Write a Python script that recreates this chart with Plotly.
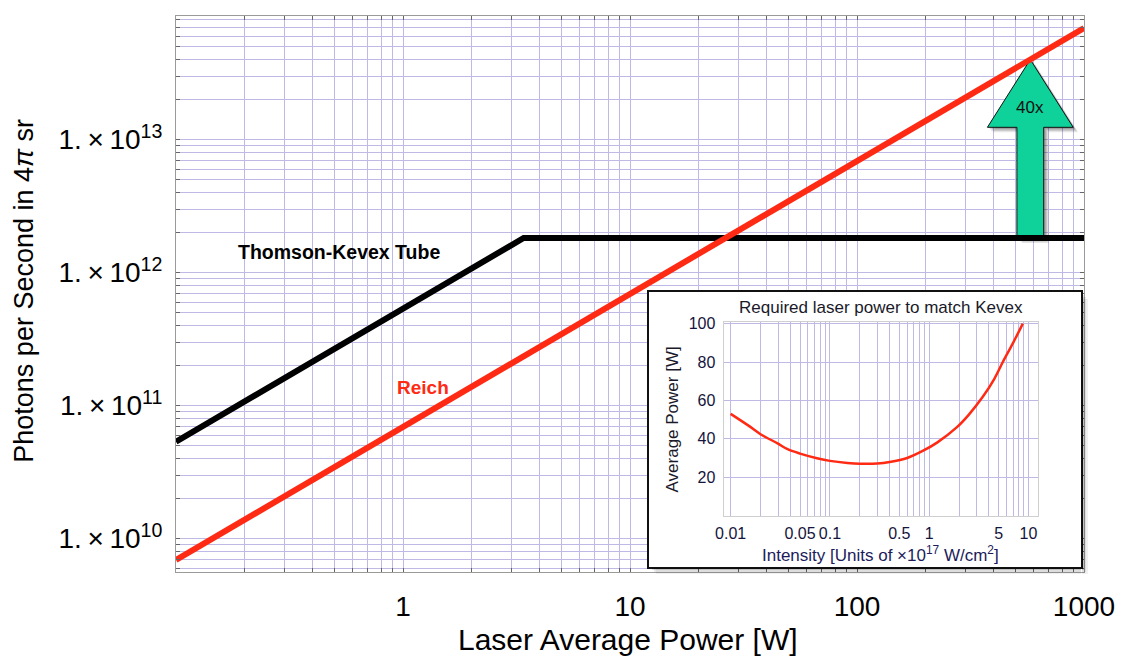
import numpy as np
import plotly.graph_objects as go

# ---------------- data ----------------
# Main chart: photons per second vs laser average power
kevex_power = [0.1, 3.4, 1000]
kevex_photons = [5.35e10, 1.82e12, 1.82e12]
reich_power = [0.1, 1000]
reich_photons = [6.9e9, 6.9e13]

x_labels = {1: "1", 10: "10", 100: "100", 1000: "1000"}
y_labels = {1e10: "10", 1e11: "11", 1e12: "12", 1e13: "13"}

# Inset: required laser power to match Kevex
intensity = [0.01, 0.015, 0.02, 0.03, 0.037, 0.05, 0.074, 0.1, 0.15, 0.2, 0.3,
             0.4, 0.6, 0.87, 1.2, 1.88, 2.5, 3.48, 4.5, 5.52, 7.0, 8.77]
avg_power = [53, 47, 42.4, 37.5, 34.7, 32.3, 29.9, 28.5, 27.4, 27.0, 27.1,
             27.9, 30.0, 33.8, 38.0, 45.8, 52.5, 62.0, 71.0, 80.0, 90.0, 100.0]
inset_x_labels = {0.01: "0.01", 0.05: "0.05", 0.1: "0.1", 0.5: "0.5", 1: "1", 5: "5", 10: "10"}
inset_y_ticks = [0, 20, 40, 60, 80, 100]

arrow_label = "40x"
arrow_power = 580  # W, where the "40x" arrow stands

# ---------------- styling ----------------
FONT = "Liberation Sans, Arial, Helvetica, sans-serif"
GRID = "#bfb9e6"
RED = "#ff2a14"
MINT = "#0fd29a"

# plot area in pixels
L, R, T, B = 176, 37, 10, 88
W, H = 1125, 660
PW, PH = W - L - R, H - T - B


def px(x):
    return (x - L) / PW


def py(y):
    return (H - B - y) / PH


def grid_vals(e0, e1):
    vals = []
    for e in range(e0, e1 + 1):
        for m in range(1, 10):
            vals.append(float(f"{m}e{e}"))
    return vals


main_x_vals = [v for v in grid_vals(-1, 3) if v <= 1000]
main_x_text = [x_labels.get(v, "") for v in main_x_vals]
main_y_vals = [v for v in grid_vals(9, 13) if 5.5e9 <= v <= 8.6e13]
main_y_text = [("1.\u2009×\u200910<sup>%s</sup>" % y_labels[v]) if v in y_labels else "" for v in main_y_vals]

inset_x_vals = [v for v in grid_vals(-2, 1) if v <= 10]
inset_x_text = [inset_x_labels.get(v, "") for v in inset_x_vals]
inset_y_text = ["" if v == 0 else str(v) for v in inset_y_ticks]

fig = go.Figure()

# ---- arrow (drawn from the data: base on Kevex plateau, tip on Reich line) ----
lx = np.log10(arrow_power)
tip = np.interp(lx, np.log10(reich_power), np.log10(reich_photons))
base = np.log10(kevex_photons[-1])
head_base = tip - 0.51
head_hw, shaft_hw = 0.189, 0.059
ax_log = [lx - shaft_hw, lx - shaft_hw, lx - head_hw, lx, lx + head_hw, lx + shaft_hw, lx + shaft_hw, lx - shaft_hw]
ay_log = [base, head_base, head_base, tip, head_base, head_base, base, base]
for k, op in [(5, 0.10), (3.5, 0.14), (2, 0.18)]:
    fig.add_trace(go.Scatter(
        x=[10 ** (v + k / 228) for v in ax_log], y=[10 ** (v - k / 134.3) for v in ay_log],
        mode="lines", fill="toself", fillcolor=f"rgba(0,0,0,{op})", line=dict(width=0),
        hoverinfo="skip", showlegend=False))
fig.add_trace(go.Scatter(
    x=[10 ** v for v in ax_log], y=[10 ** v for v in ay_log],
    mode="lines", fill="toself", fillcolor=MINT, line=dict(color="#111", width=1),
    hoverinfo="skip", showlegend=False))

# ---- main lines ----
fig.add_trace(go.Scatter(x=kevex_power, y=kevex_photons, mode="lines",
                         line=dict(color="black", width=6), name="Thomson-Kevex Tube",
                         showlegend=False))
fig.add_trace(go.Scatter(x=reich_power, y=reich_photons, mode="lines",
                         line=dict(color=RED, width=6), name="Reich", showlegend=False))

# ---- cover panel for the inset (subplot 2) ----
fig.add_trace(go.Scatter(x=[], y=[], xaxis="x2", yaxis="y2", showlegend=False, hoverinfo="skip"))

# ---- inset curve (subplot 3) ----
fig.add_trace(go.Scatter(x=intensity, y=avg_power, xaxis="x3", yaxis="y3", mode="lines",
                         line=dict(color=RED, width=2.5, shape="spline"), showlegend=False))

axis_common = dict(showgrid=True, gridcolor=GRID, gridwidth=1.3, zeroline=False,
                   showline=True, linecolor="#9a9a9a", linewidth=1, mirror="allticks",
                   ticks="inside", ticklen=4, tickcolor="#666", tickwidth=1)

inset_domain_x = [px(726), px(1042)]
inset_domain_y = [py(515), py(319)]
cover_x = [px(651), px(1085)]
cover_y = [py(567), py(289)]

fig.update_layout(
    width=W, height=H,
    margin=dict(l=L, r=R, t=T, b=B),
    paper_bgcolor="white", plot_bgcolor="white",
    font=dict(family=FONT, color="black"),
    showlegend=False,
    xaxis=dict(type="log", range=[-1, 3], tickvals=main_x_vals, ticktext=main_x_text,
               tickfont=dict(size=28, color="black"), ticklabelstandoff=9, **axis_common),
    yaxis=dict(type="log", range=[np.log10(5.6e9), np.log10(8.5e13)], tickvals=main_y_vals,
               ticktext=main_y_text, tickfont=dict(size=28, color="black"),
               ticklabelstandoff=7, **axis_common),
    xaxis2=dict(domain=cover_x, anchor="y2", range=[0, 1], showgrid=False, zeroline=False,
                showticklabels=False, ticks="", showline=True, mirror=True,
                linecolor="#111", linewidth=2, fixedrange=True),
    yaxis2=dict(domain=cover_y, anchor="x2", range=[0, 1], showgrid=False, zeroline=False,
                showticklabels=False, ticks="", showline=True, mirror=True,
                linecolor="#111", linewidth=2, fixedrange=True),
    xaxis3=dict(domain=inset_domain_x, anchor="y3", type="log", range=[-2.071, 1.098],
                tickvals=inset_x_vals, ticktext=inset_x_text, showgrid=True, gridcolor=GRID,
                gridwidth=1, zeroline=False, showline=True, mirror=True, linecolor="#cfcfcf",
                ticks="", tickfont=dict(size=16, color="#14143c"), ticklabelstandoff=3),
    yaxis3=dict(domain=inset_domain_y, anchor="x3", range=[0, 101], tickvals=inset_y_ticks,
                ticktext=inset_y_text, showgrid=True, gridcolor=GRID, gridwidth=1,
                zeroline=False, showline=True, mirror=True, linecolor="#cfcfcf", ticks="",
                tickfont=dict(size=16, color="#14143c"), ticklabelstandoff=4),
)

# shadow of the inset panel (outside the panel, on right and bottom)
for d, op in [(7, 0.06), (5, 0.08), (3, 0.12)]:
    fig.add_shape(type="rect", xref="paper", yref="paper", layer="above",
                  x0=px(1086), x1=px(1085 + d), y0=py(567 + d), y1=py(289 + d),
                  fillcolor=f"rgba(0,0,0,{op})", line=dict(width=0))
    fig.add_shape(type="rect", xref="paper", yref="paper", layer="above",
                  x0=px(651 + d), x1=px(1085), y0=py(567 + d), y1=py(568),
                  fillcolor=f"rgba(0,0,0,{op})", line=dict(width=0))

C = dict(xanchor="center", yanchor="middle", showarrow=False)
ann = []
# axis titles
ann.append(dict(text="Laser Average Power [W]", xref="paper", yref="paper", x=px(630), y=py(640),
                font=dict(size=30, color="black"), **C))
ann.append(dict(text="Photons per Second in 4<i>π</i> sr", xref="paper", yref="paper", x=px(23), y=py(288),
                textangle=-90, font=dict(size=27, color="black"), **C))
# curve labels
ann.append(dict(text="<b>Thomson-Kevex Tube</b>", xref="x", yref="y", x=np.log10(0.52), y=np.log10(1.42e12),
                font=dict(size=19.5, color="black"), **C))
ann.append(dict(text="<b>Reich</b>", xref="x", yref="y", x=np.log10(1.22), y=np.log10(1.37e11),
                font=dict(size=19, color=RED), **C))
ann.append(dict(text=arrow_label, xref="x", yref="y", x=lx, y=np.log10(1.75e13),
                font=dict(size=17, color="#111"), **C))
# inset texts
ann.append(dict(text="Required laser power to match Kevex", xref="paper", yref="paper",
                x=px(884), y=py(305), font=dict(size=17, color="#1a1a2a"), **C))
ann.append(dict(text="Average Power [W]", xref="paper", yref="paper", x=px(675), y=py(418),
                textangle=-90, font=dict(size=17, color="#1a1a2a"), **C))
ann.append(dict(text="Intensity [Units of ×10<sup>17</sup> W/cm<sup>2</sup>]", xref="paper", yref="paper",
                x=px(884), y=py(554), font=dict(size=17, color="#1c1c5c"), **C))
fig.update_layout(annotations=ann)

fig.write_html("out.html")
